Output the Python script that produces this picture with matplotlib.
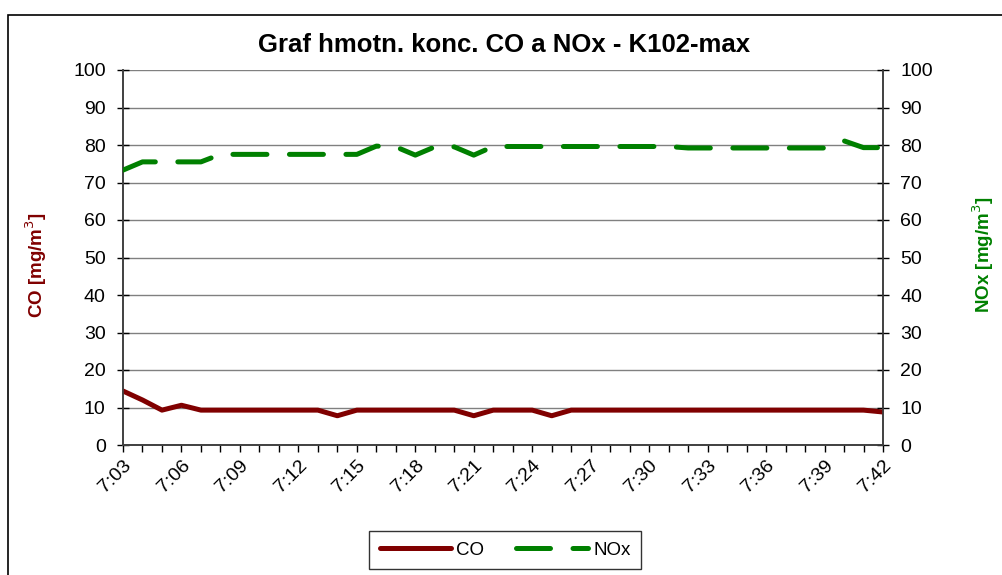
import numpy as np
import matplotlib.pyplot as plt
import matplotlib.patches as mpatches
from matplotlib.ticker import MultipleLocator

plt.rcParams['font.family'] = ['Liberation Sans', 'DejaVu Sans']

# data (one value per minute, 7:03 - 7:42)
times = ["7:%02d" % m for m in range(3, 43)]
co = [14.4, 12.0, 9.3, 10.6, 9.3,
      9.3, 9.3, 9.3, 9.3, 9.3, 9.3,
      7.8,
      9.3, 9.3, 9.3, 9.3, 9.3, 9.3,
      7.8,
      9.3, 9.3, 9.3,
      7.8,
      9.3, 9.3, 9.3, 9.3, 9.3, 9.3, 9.3, 9.3,
      9.3, 9.3, 9.3, 9.3, 9.3, 9.3, 9.3, 9.3,
      8.8]
nox = [73.3, 75.5, 75.5, 75.5, 75.5,
       77.5, 77.5, 77.5, 77.5, 77.5, 77.5, 77.5, 77.5,
       79.7, 79.5, 77.3, 79.5, 79.5, 77.3,
       79.6, 79.6, 79.6, 79.6, 79.6, 79.6, 79.6, 79.6, 79.6, 79.6,
       79.2, 79.2, 79.2, 79.2, 79.2, 79.2, 79.2, 79.2,
       81.1, 79.3, 79.3]

co_color = "#800000"
nox_color = "#008000"

fig = plt.figure(figsize=(10.03, 5.75), dpi=100)
ax = fig.add_axes([123/1003, 1-445/575, 760/1003, 375/575])
ax2 = ax.twinx()

x = np.arange(len(times))

ax.plot(x, co, color=co_color, lw=3.6, solid_capstyle='round', solid_joinstyle='round', label="CO", zorder=3)
ax2.plot(x, nox, color=nox_color, lw=3.6, dashes=(6.8, 4.5), dash_capstyle='round', dash_joinstyle='round', label="NOx", zorder=3)

for a in (ax, ax2):
    a.set_ylim(0, 100)
    a.set_xlim(0, len(times) - 1)
    a.yaxis.set_major_locator(MultipleLocator(10))
    a.tick_params(axis='y', direction='inout', length=9, width=1, labelsize=14, colors='black', pad=8)

ax.grid(axis='y', color='#808080', lw=1)
ax.set_axisbelow(True)

ax.set_xticks(x[::3])
ax.set_xticklabels(times[::3], rotation=45, ha='right', va='top', rotation_mode='anchor')
ax.set_xticks(x, minor=True)
ax.tick_params(axis='x', which='both', direction='out', length=5, width=1, labelsize=14)

for a in (ax, ax2):
    a.spines['top'].set_visible(False)
    for s in ('left', 'right', 'bottom'):
        a.spines[s].set_color('#404040')
        a.spines[s].set_linewidth(1.2)

ax.set_ylabel("CO [mg/m$^3$]", color=co_color, fontsize=13.5, fontweight='bold')
ax.yaxis.label.set_va('center')
ax.yaxis.label.set_ha('center')
ax.yaxis.set_label_coords(-0.114, 0.481)
ax2.set_ylabel("NOx [mg/m$^3$]", color=nox_color, fontsize=13.5, fontweight='bold', rotation=90)
ax2.yaxis.label.set_va('center')
ax2.yaxis.label.set_ha('center')
ax2.yaxis.set_label_coords(1.1316, 0.507)

fig.text(0.503, 1-45.5/575, "Graf hmotn. konc. CO a NOx - K102-max", ha='center', va='center',
         fontsize=18.5, fontweight='bold')

h1, l1 = ax.get_legend_handles_labels()
h2, l2 = ax2.get_legend_handles_labels()
leg = fig.legend(h1 + h2, l1 + l2, loc='center', bbox_to_anchor=(505/1003, 1-550/575), ncol=2,
                 fontsize=13.5, frameon=True, fancybox=False, edgecolor='black', handlelength=3.8,
                 columnspacing=1.7, handletextpad=0.3, borderpad=0.55)
leg.get_frame().set_linewidth(1)

# outer chart border
fig.patches.append(mpatches.Rectangle((8/1003, -0.1), 1.1, 1-15/575 + 0.1, transform=fig.transFigure,
                                      fill=False, edgecolor='black', lw=1.2))

fig.savefig("out.png", dpi=100)
